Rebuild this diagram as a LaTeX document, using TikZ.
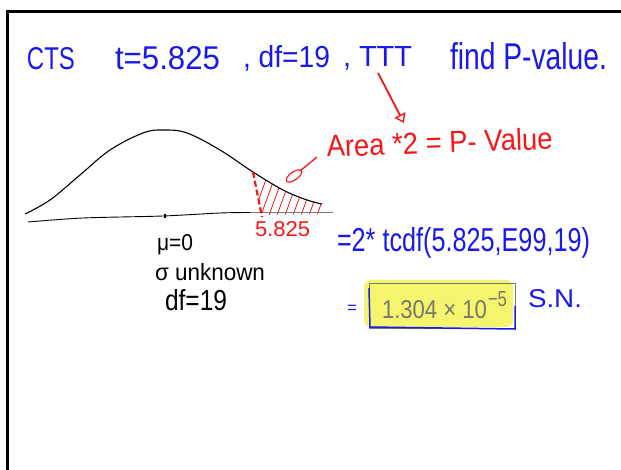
\documentclass[tikz,border=0pt]{standalone}
\usepackage{fontspec}
\setmainfont{Liberation Sans}
\usepackage{graphicx}
\usetikzlibrary{arrows.meta}
\definecolor{hblue}{RGB}{25,25,235}
\definecolor{hred}{RGB}{248,22,22}
\definecolor{hgrey}{RGB}{120,120,108}
\definecolor{hyellow}{RGB}{244,244,110}
\definecolor{axgrey}{RGB}{120,120,120}
\begin{document}
\begin{tikzpicture}[x=1pt,y=-1pt,
  txt/.style={anchor=base west, inner sep=0pt, outer sep=0pt},
  curveline/.style={line width=1.1pt, black},
  hatch/.style={hred, line width=0.8pt}]
\useasboundingbox (0,0) rectangle (621,470);
\fill[white] (0,0) rectangle (621,470);
% frame
\draw[line width=3pt, black] (7.5,470) -- (7.5,11.5) -- (621,11.5);

% title
\node[txt, hblue] (cts) at (27,70) {\resizebox{48pt}{22pt}{CTS}};
\node[txt, hblue] (tval) at (115,70) {\resizebox{105pt}{23pt}{t=5.825}};
\node[txt, hblue] (dft) at (243,68) {\resizebox{87pt}{22pt}{, df=19}};
\node[txt, hblue] (ttt) at (343,67) {\resizebox{69pt}{20pt}{, TTT}};
\node[txt, hblue] (find) at (450,70) {\resizebox{157pt}{27pt}{find P-value.}};

% red arrow from TTT
\coordinate (a0) at (378,73);
\coordinate (a1) at (404,123);
\draw[hred, line width=1.8pt, -{Triangle[open, length=9pt, width=12pt, line width=1.4pt]}] (a0) .. controls (390,96) .. (a1);

\node[txt, hred, rotate=2] (area) at (327,157) {\resizebox{226pt}{22pt}{Area *2 = P- Value}};

% pointer to area
\coordinate (p0) at (317,157);
\coordinate (p1) at (300,171);
\draw[hred, line width=1.3pt] (p0) -- (p1);
\draw[hred, line width=1.1pt, rotate around={35:(294,176)}] (294,176) ellipse (9 and 4);

% hatching of tail
\begin{scope}
\clip plot[smooth, tension=0.6] coordinates {(253,172) (268,181) (283,190) (296,196) (307,200) (315,202) (322,204)} -- (322,214) -- (262,215) -- cycle;
\foreach \x in {252,260,...,320} \draw[hatch] (\x,218) -- ++(16,-44);
\end{scope}

% curve
\draw[curveline] plot[smooth, tension=0.6] coordinates {(25,214) (50,200) (80,175) (110,150) (143,133) (163,130) (187,133) (220,150) (253,172) (283,190) (307,200) (322,204)};
% axis
\draw[line width=0.9pt, black] plot[smooth, tension=0.5] coordinates {(28,222) (83,218) (163,216) (220,213) (250,212.5)};
\draw[line width=1pt, axgrey] (250,212.5) -- (333,212.5);
\draw[line width=2pt, black] (165,214) -- (165,218.5);

% dashed boundary
\draw[hred, line width=2.2pt, dash pattern=on 6pt off 3pt] (253,172) -- (262,217);

\node[txt, hred] (tcrit) at (255,237) {\resizebox{55pt}{15pt}{5.825}};

% left labels
\node[txt, black] (mu) at (157,251) {\resizebox{36pt}{16pt}{μ=0}};
\node[txt, black] (sig) at (155,280) {\resizebox{110pt}{17pt}{σ unknown}};
\node[txt, black] (df) at (165,311) {\resizebox{62pt}{21pt}{df=19}};

% right work
\node[txt, hblue] (tcdf) at (337,252) {\resizebox{253pt}{24pt}{=2* tcdf(5.825,E99,19)}};
\node[hblue, inner sep=0pt, font=\fontsize{17}{17}\selectfont] (eq) at (352,309) {=};

\fill[hyellow, rounded corners=7pt] (364,280) rectangle (513,327);
\draw[hgrey, line width=1pt] (369,284) rectangle (515,328);
\draw[hblue, line width=1.5pt] (369,288) -- (370,327) -- (515,329) -- (515,306);

\node[txt, hgrey] (res) at (382,318) {\resizebox{105pt}{18pt}{1.304 × 10}};
\node[txt, hgrey] (expo) at (488,307) {\resizebox{19pt}{15pt}{−5}};
\node[txt, hblue] (sn) at (528,308) {\resizebox{54pt}{18pt}{S.N.}};
\end{tikzpicture}
\end{document}
